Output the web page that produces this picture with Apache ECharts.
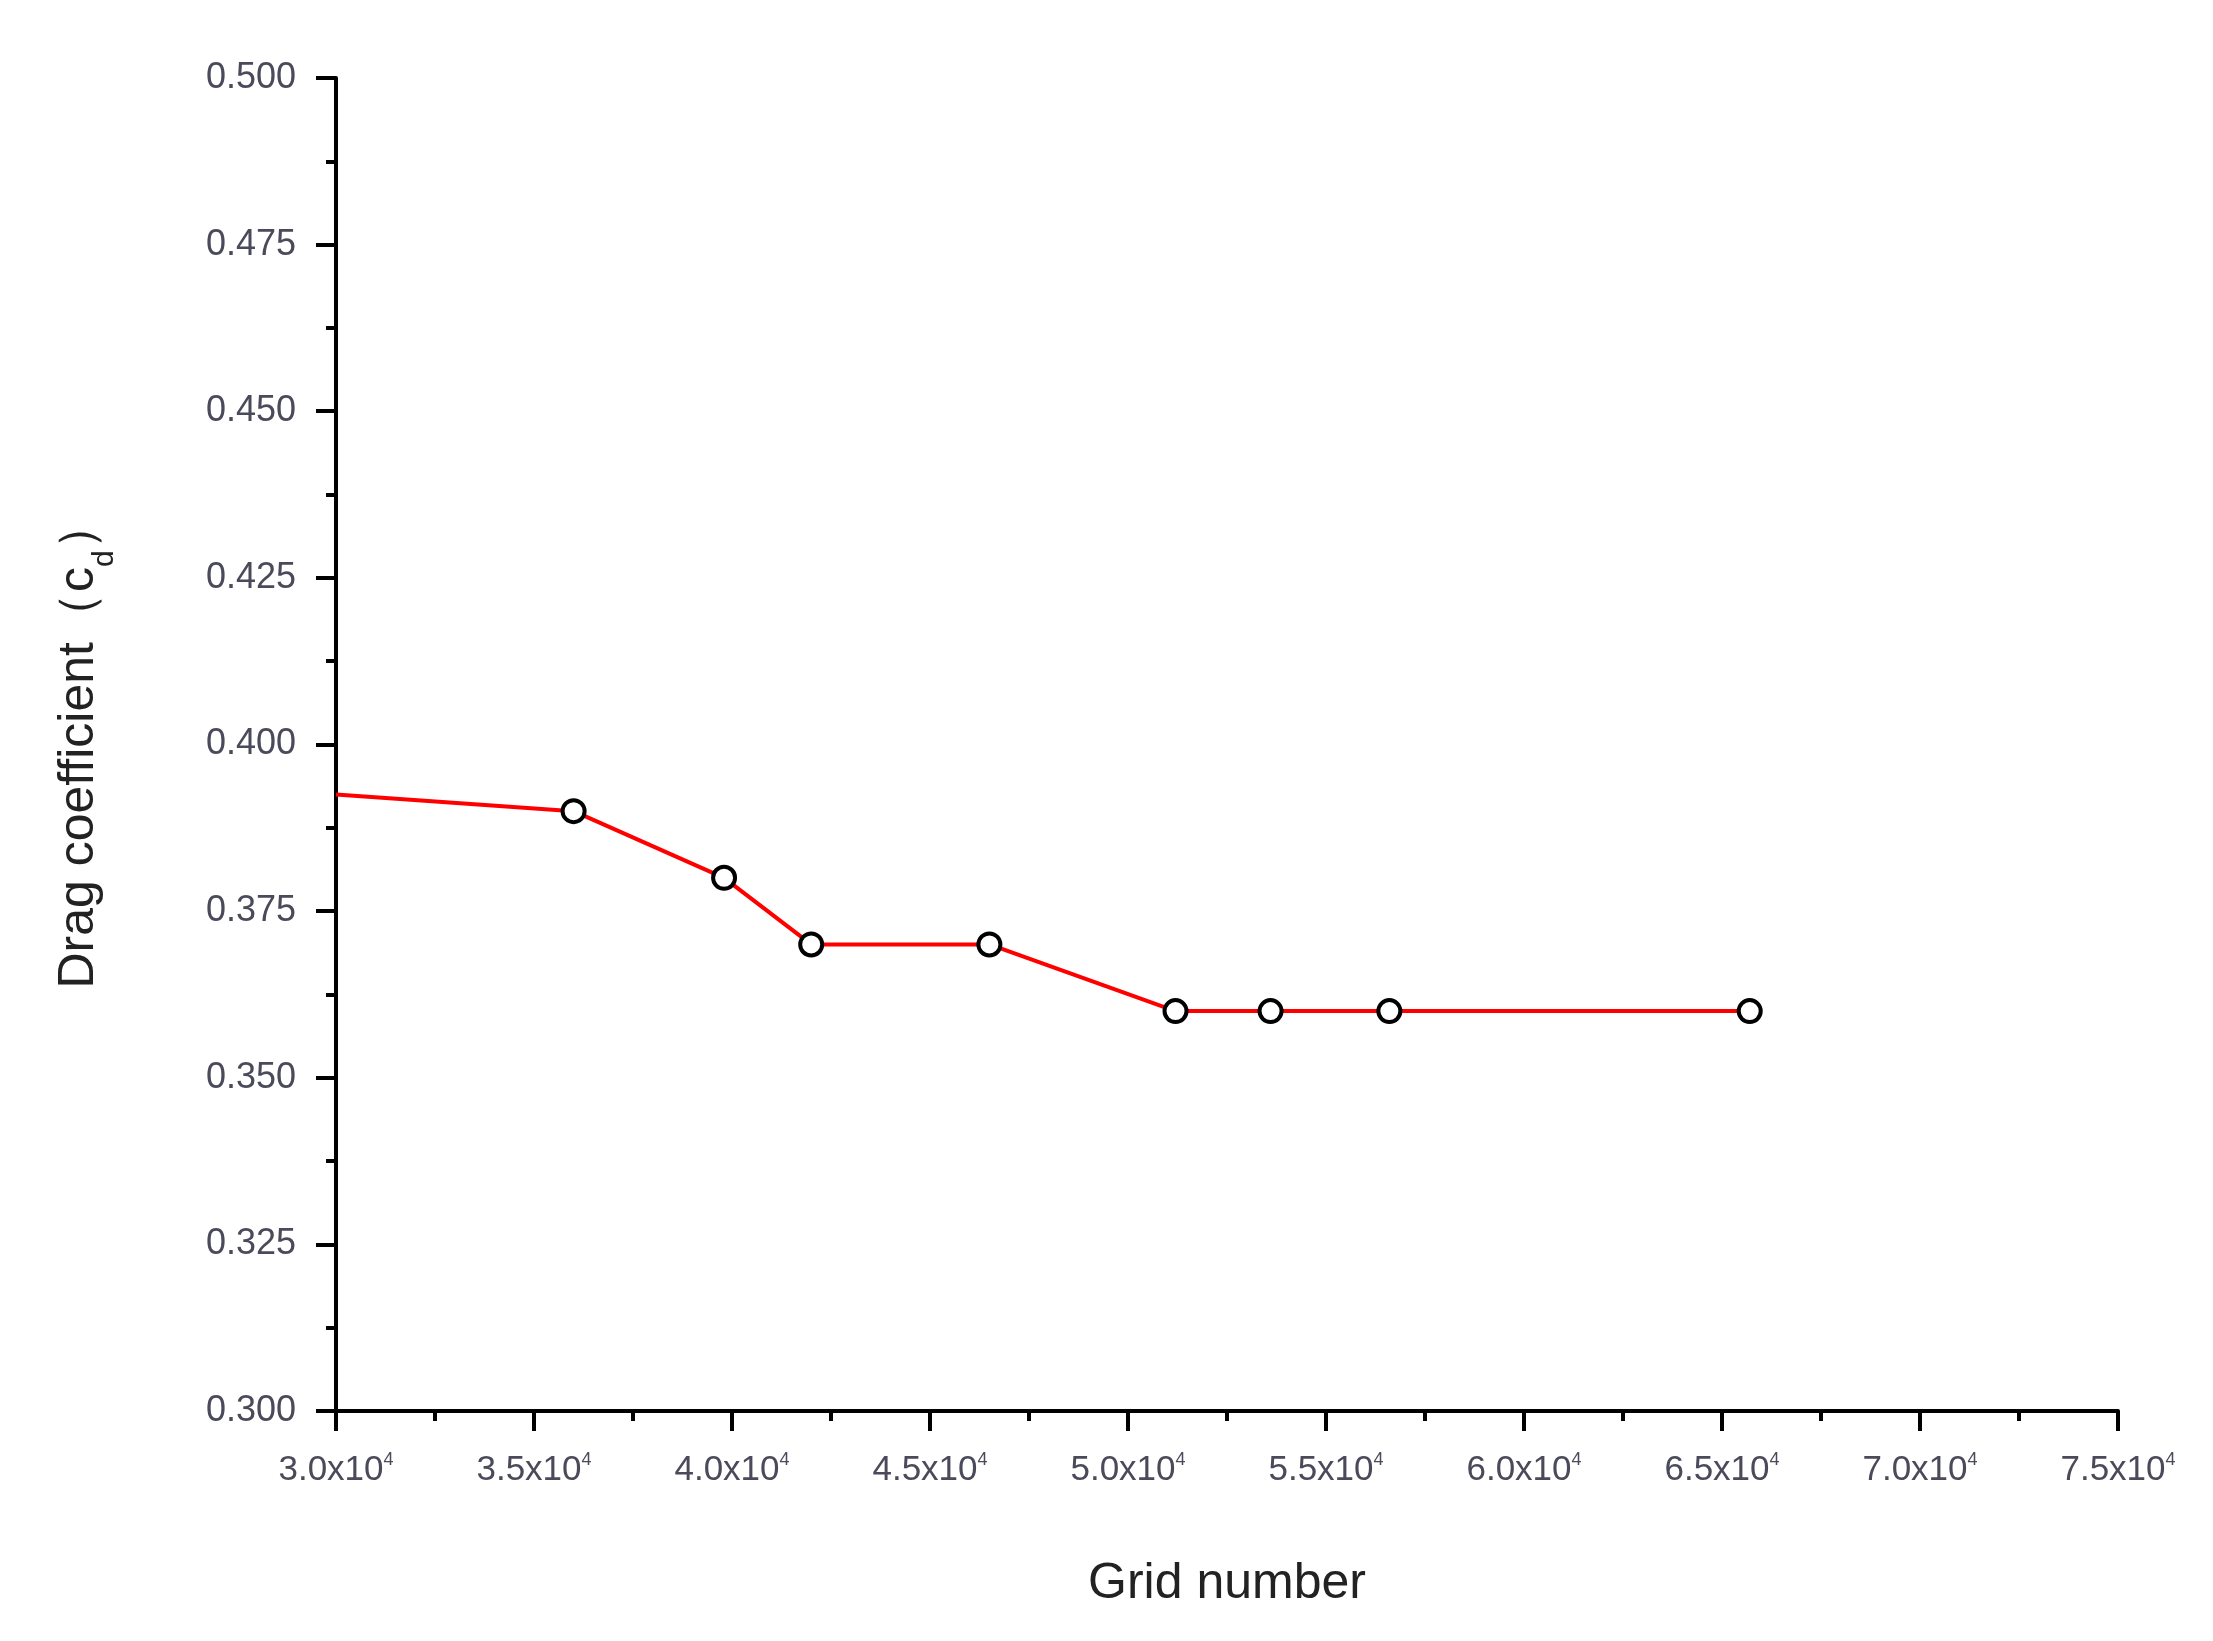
<!DOCTYPE html>
<html>
<head>
<meta charset="utf-8">
<script src="https://cdn.jsdelivr.net/npm/echarts@6/dist/echarts.min.js"></script>
<style>
  html, body { margin: 0; padding: 0; background: #fff; }
  #main { width: 2213px; height: 1641px; }
</style>
</head>
<body>
<div id="main"></div>
<script>
// grid number vs drag coefficient
const gridNumbers = [30000, 36000, 39800, 42000, 46500, 51200, 53600, 56600, 65700];
const dragCoeffs = [0.3925, 0.390, 0.380, 0.370, 0.370, 0.360, 0.360, 0.360, 0.360];
const yTicks = [0.300, 0.325, 0.350, 0.375, 0.400, 0.425, 0.450, 0.475, 0.500];

const chart = echarts.init(document.getElementById("main"));

const seriesData = gridNumbers.map((x, i) => ({
    value: [x, dragCoeffs[i]],
    // first point is only the line start, no marker
    symbol: i === 0 ? "none" : "circle"
}));

const labelColor = "#4a4a5a";

chart.setOption({
    backgroundColor: "#fff",
    animation: false,
    grid: { left: 336, right: 95, top: 78, bottom: 230 },
    xAxis: {
        type: "value",
        min: 30000,
        max: 75000,
        interval: 5000,
        name: "Grid number",
        nameLocation: "middle",
        nameGap: 148,
        nameTextStyle: { fontFamily: "Arial, Liberation Sans", fontSize: 50, color: "#222" },
        axisLine: { lineStyle: { color: "#000", width: 4 } },
        axisTick: { inside: false, length: 20, lineStyle: { color: "#000", width: 4 } },
        minorTick: { show: true, splitNumber: 2, length: 10, lineStyle: { color: "#000", width: 4 } },
        splitLine: { show: false },
        axisLabel: {
            margin: 40,
            formatter: v => "{b|" + (v / 10000).toFixed(1) + "x10}{s|4}",
            rich: {
                b: { fontFamily: "Arial, Liberation Sans", fontSize: 35, color: labelColor },
                s: { fontFamily: "Arial, Liberation Sans", fontSize: 18, color: labelColor, verticalAlign: "top", padding: [0, 0, 20, 0] }
            }
        }
    },
    yAxis: {
        type: "value",
        min: yTicks[0],
        max: yTicks[yTicks.length - 1],
        interval: 0.025,
        name: "Drag coefficient（c{sub|d}）",
        nameLocation: "middle",
        nameGap: 232,
        nameRotate: 90,
        nameTextStyle: {
            fontFamily: "Arial, Liberation Sans", fontSize: 50, color: "#222",
            rich: { sub: { fontFamily: "Arial, Liberation Sans", fontSize: 30, color: "#222", verticalAlign: "bottom", padding: [0, 0, -16, 0] } }
        },
        axisLine: { show: true, lineStyle: { color: "#000", width: 4 } },
        axisTick: { show: true, inside: false, length: 20, lineStyle: { color: "#000", width: 4 } },
        minorTick: { show: true, splitNumber: 2, length: 10, lineStyle: { color: "#000", width: 4 } },
        splitLine: { show: false },
        axisLabel: {
            margin: 40,
            fontFamily: "Arial, Liberation Sans",
            fontSize: 36,
            color: labelColor,
            formatter: v => v.toFixed(3)
        }
    },
    series: [
        {
            type: "line",
            data: seriesData,
            symbolSize: 22,
            itemStyle: { color: "#fff", borderColor: "#000", borderWidth: 4 },
            lineStyle: { color: "#ff0000", width: 4 }
        }
    ]
});
</script>
</body>
</html>
